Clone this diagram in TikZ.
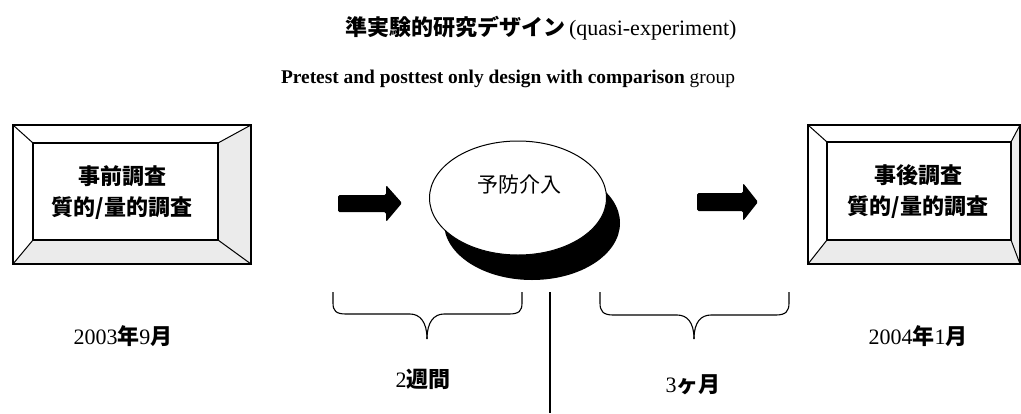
\documentclass[tikz,border=0pt]{standalone}
\usepackage{fontspec}
\setmainfont{Liberation Serif}
\newfontfamily\cjk{Noto Sans CJK JP}
\usetikzlibrary{shapes.geometric}
\newcommand\drawbevel[8]{%
  \fill[bevelfill] (#1,#4) -- (#5,#8) -- (#7,#8) -- (#3,#4) -- cycle;
  \fill[bevelfill] (#7,#6) -- (#3,#2) -- (#3,#4) -- (#7,#8) -- cycle;
  \draw[frameline] (#1,#2) rectangle (#3,#4);
  \draw[frameline] (#5,#6) rectangle (#7,#8);
  \draw[bevelline] (#1,#2) -- (#5,#6) (#3,#2) -- (#7,#6) (#1,#4) -- (#5,#8) (#3,#4) -- (#7,#8);
}
\tikzset{
  frameline/.style={line width=1.6pt, black},
  bevelline/.style={line width=1pt, black},
  bevelfill/.style={fill=black!8},
  boxtext/.style={font=\cjk\bfseries\fontsize{22}{26}\selectfont, inner sep=0pt},
  labeltext/.style={font=\fontsize{22}{26}\selectfont, inner sep=0pt, anchor=base},
  blockarrow/.style={fill=black, rounded corners=1.5pt},
  bracestyle/.style={line width=1.1pt, black},
}
\begin{document}
\begin{tikzpicture}[x=1pt,y=-1pt]
\useasboundingbox (0,0) rectangle (1021,413);
% titles
\node[labeltext, font=\fontsize{22}{26}\selectfont] (title1) at (541,35) {{\cjk\bfseries 準実験的研究デザイン}\,(quasi-experiment)};
\node[labeltext, font=\fontsize{19.4}{23}\selectfont] (title2) at (508,83) {\bfseries Pretest and posttest only design with comparison \mdseries group};
% left frame
\drawbevel{13}{125}{251}{264}{33}{143}{218}{240}
\node[boxtext] (pre1) at (122,176) {事前調査};
\node[boxtext] (pre2) at (122,208) {質的/量的調査};
% right frame
\drawbevel{808}{125}{1020}{264}{827}{142}{1011}{240}
\node[boxtext] (post1) at (918,175) {事後調査};
\node[boxtext] (post2) at (918,207) {質的/量的調査};
% intervention
\fill[black] (532,223) ellipse [x radius=88, y radius=57];
\node[ellipse, draw, line width=1pt, fill=white, minimum width=177pt, minimum height=114pt, inner sep=0pt] (inter) at (518,198) {};
\node[font=\cjk\fontsize{21}{24}\selectfont, inner sep=0pt] (intertext) at (519,185) {予防介入};
% arrows
\fill[blockarrow] (338,195) -- (386,195) -- (386,185) -- (402,203) -- (386,222) -- (386,212) -- (338,212) -- cycle;
\fill[blockarrow] (697,193) -- (743,193) -- (743,183) -- (758,202) -- (743,221) -- (743,211) -- (697,211) -- cycle;
% braces
\coordinate (b1s) at (333,292);
\coordinate (b1e) at (522,292);
\coordinate (b1t) at (427,339);
\draw[bracestyle] (b1s) -- ++(0,11) .. controls +(0,8) and +(-10,0) .. (346,314) -- (410,314) .. controls (420,314) and (427,322) .. (b1t);
\draw[bracestyle] (b1e) -- ++(0,11) .. controls +(0,8) and +(10,0) .. (509,314) -- (444,314) .. controls (434,314) and (427,322) .. (b1t);
\coordinate (b2s) at (600,292);
\coordinate (b2e) at (789,292);
\coordinate (b2t) at (694,339);
\draw[bracestyle] (b2s) -- ++(0,11) .. controls +(0,8) and +(-10,0) .. (613,315) -- (677,315) .. controls (687,315) and (694,322) .. (b2t);
\draw[bracestyle] (b2e) -- ++(0,11) .. controls +(0,8) and +(10,0) .. (776,315) -- (711,315) .. controls (701,315) and (694,322) .. (b2t);
% vertical line
\coordinate (vtop) at (550,292);
\coordinate (vbot) at (550,413);
\draw[line width=1.1pt] (vtop) -- (vbot);
% labels
\node[labeltext] (date1) at (123,344) {2003{\cjk\bfseries 年}9{\cjk\bfseries 月}};
\node[labeltext] (date2) at (918,344) {2004{\cjk\bfseries 年}1{\cjk\bfseries 月}};
\node[labeltext] (dur1) at (423,387) {2{\cjk\bfseries 週間}};
\node[labeltext] (dur2) at (693,392) {3{\cjk\bfseries ヶ月}};
\end{tikzpicture}
\end{document}
